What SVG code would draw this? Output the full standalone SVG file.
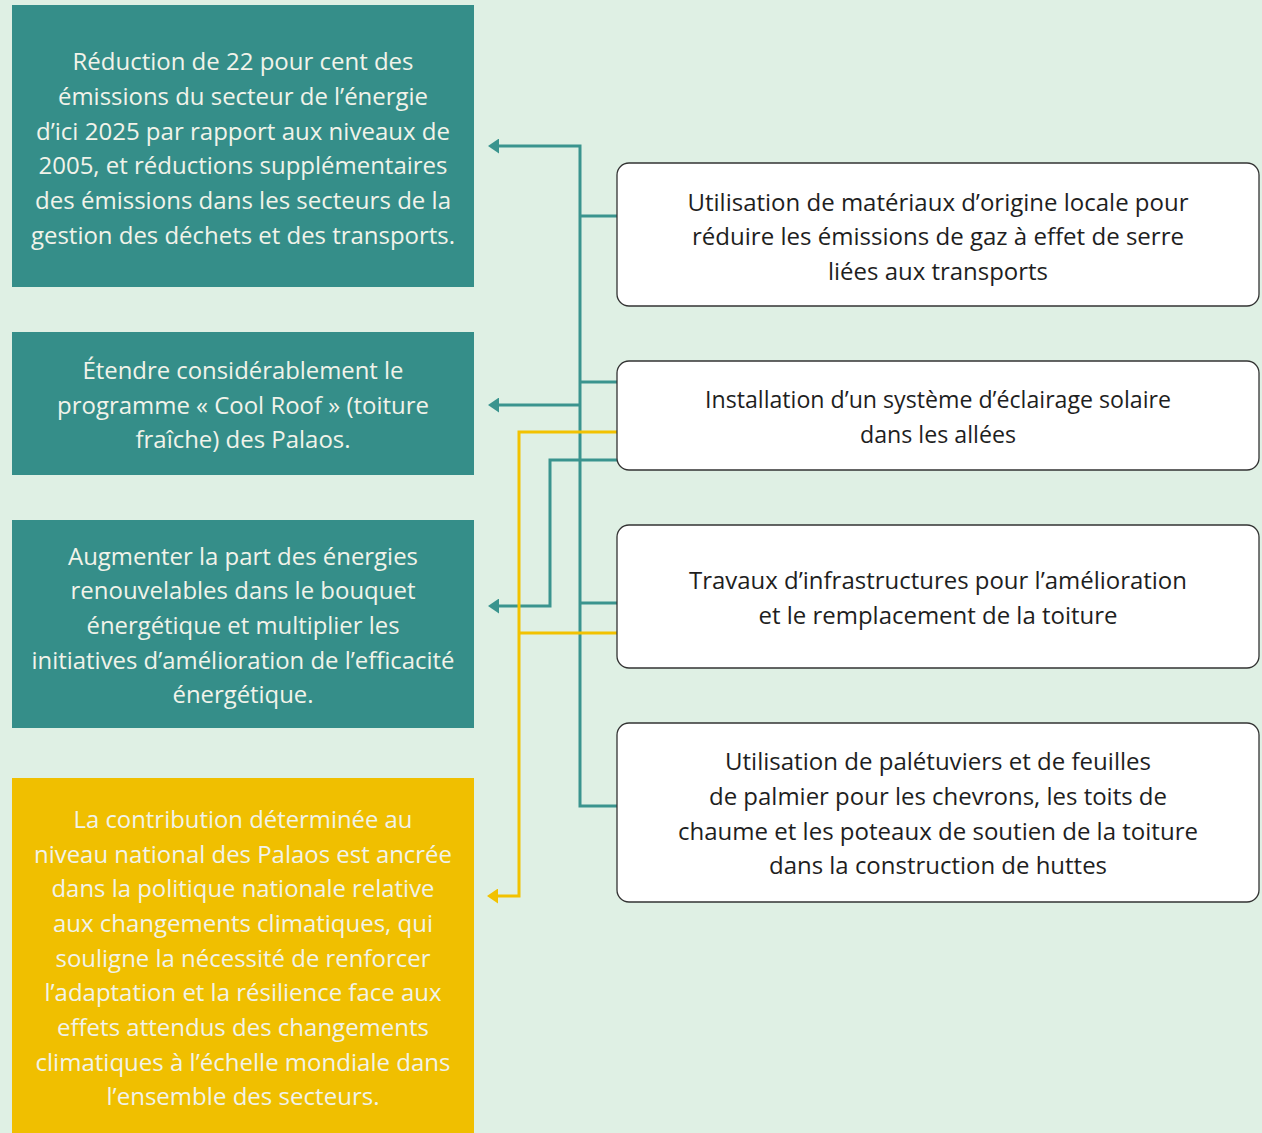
<svg xmlns="http://www.w3.org/2000/svg" width="1262" height="1133" viewBox="0 0 1262 1133">
<style>
.bg{fill:#dff0e4}
.teal{fill:#358e89}
.yel{fill:#f0bf00}
.rbox{fill:#ffffff;stroke:#333333;stroke-width:1.3}
.lt{font-family:"Open Sans","Liberation Sans",sans-serif;font-size:23px;fill:#f1f3ea;text-anchor:middle}
.rt{font-family:"Open Sans","Liberation Sans",sans-serif;font-size:23.5px;fill:#1e1e1e;text-anchor:middle}
.ct{fill:none;stroke:#3a948e;stroke-width:3}
.cy{fill:none;stroke:#f2c200;stroke-width:3}
</style>
<defs>
<marker id="at" viewBox="0 0 11 15" refX="1" refY="7.5" markerWidth="11" markerHeight="15" markerUnits="userSpaceOnUse" orient="auto"><path d="M0,0 L11,7.5 L0,15 Z" fill="#3a948e"/></marker>
<marker id="ay" viewBox="0 0 11 15" refX="1" refY="7.5" markerWidth="11" markerHeight="15" markerUnits="userSpaceOnUse" orient="auto"><path d="M0,0 L11,7.5 L0,15 Z" fill="#f2c200"/></marker>
</defs>
<rect class="bg" x="0" y="0" width="1262" height="1133"/>

<g id="connectors">
<path class="ct" d="M617,216 H580"/>
<path class="ct" d="M617,382 H580"/>
<path class="ct" d="M617,603 H580"/>
<path class="ct" d="M617,806 H580 V146 H498" marker-end="url(#at)"/>
<path class="ct" d="M580,405 H498" marker-end="url(#at)"/>
<path class="ct" d="M617,460 H550 V606 H498" marker-end="url(#at)"/>
<path class="cy" d="M617,633 H519"/>
<path class="cy" d="M617,432 H519 V896 H497" marker-end="url(#ay)"/>
</g>

<g id="n1">
<rect class="teal" x="12" y="5" width="462" height="282"/>
<text class="lt"><tspan x="243" y="70" textLength="341" lengthAdjust="spacingAndGlyphs">Réduction de 22 pour cent des</tspan><tspan x="243" y="105" textLength="370" lengthAdjust="spacingAndGlyphs">émissions du secteur de l’énergie</tspan><tspan x="243" y="140" textLength="414" lengthAdjust="spacingAndGlyphs">d’ici 2025 par rapport aux niveaux de</tspan><tspan x="243" y="174" textLength="409" lengthAdjust="spacingAndGlyphs">2005, et réductions supplémentaires</tspan><tspan x="243" y="209" textLength="416" lengthAdjust="spacingAndGlyphs">des émissions dans les secteurs de la</tspan><tspan x="243" y="244" textLength="424" lengthAdjust="spacingAndGlyphs">gestion des déchets et des transports.</tspan></text>
</g>

<g id="n2">
<rect class="teal" x="12" y="332" width="462" height="143"/>
<text class="lt"><tspan x="243" y="379" textLength="321" lengthAdjust="spacingAndGlyphs">Étendre considérablement le</tspan><tspan x="243" y="414" textLength="372" lengthAdjust="spacingAndGlyphs">programme « Cool Roof » (toiture</tspan><tspan x="243" y="448" textLength="215" lengthAdjust="spacingAndGlyphs">fraîche) des Palaos.</tspan></text>
</g>

<g id="n3">
<rect class="teal" x="12" y="520" width="462" height="208"/>
<text class="lt"><tspan x="243" y="565" textLength="350" lengthAdjust="spacingAndGlyphs">Augmenter la part des énergies</tspan><tspan x="243" y="599" textLength="345" lengthAdjust="spacingAndGlyphs">renouvelables dans le bouquet</tspan><tspan x="243" y="634" textLength="313" lengthAdjust="spacingAndGlyphs">énergétique et multiplier les</tspan><tspan x="243" y="669" textLength="423" lengthAdjust="spacingAndGlyphs">initiatives d’amélioration de l’efficacité</tspan><tspan x="243" y="703" textLength="141" lengthAdjust="spacingAndGlyphs">énergétique.</tspan></text>
</g>

<g id="n4">
<rect class="yel" x="12" y="778" width="462" height="360"/>
<text class="lt"><tspan x="243" y="828" textLength="339" lengthAdjust="spacingAndGlyphs">La contribution déterminée au</tspan><tspan x="243" y="863" textLength="418" lengthAdjust="spacingAndGlyphs">niveau national des Palaos est ancrée</tspan><tspan x="243" y="897" textLength="383" lengthAdjust="spacingAndGlyphs">dans la politique nationale relative</tspan><tspan x="243" y="932" textLength="380" lengthAdjust="spacingAndGlyphs">aux changements climatiques, qui</tspan><tspan x="243" y="967" textLength="375" lengthAdjust="spacingAndGlyphs">souligne la nécessité de renforcer</tspan><tspan x="243" y="1001" textLength="397" lengthAdjust="spacingAndGlyphs">l’adaptation et la résilience face aux</tspan><tspan x="243" y="1036" textLength="372" lengthAdjust="spacingAndGlyphs">effets attendus des changements</tspan><tspan x="243" y="1071" textLength="415" lengthAdjust="spacingAndGlyphs">climatiques à l’échelle mondiale dans</tspan><tspan x="243" y="1105" textLength="273" lengthAdjust="spacingAndGlyphs">l’ensemble des secteurs.</tspan></text>
</g>

<g id="r1">
<rect class="rbox" x="617" y="163" width="642" height="143" rx="12"/>
<text class="rt"><tspan x="938" y="211" textLength="501" lengthAdjust="spacingAndGlyphs">Utilisation de matériaux d’origine locale pour</tspan><tspan x="938" y="245" textLength="492" lengthAdjust="spacingAndGlyphs">réduire les émissions de gaz à effet de serre</tspan><tspan x="938" y="280" textLength="220" lengthAdjust="spacingAndGlyphs">liées aux transports</tspan></text>
</g>

<g id="r2">
<rect class="rbox" x="617" y="361" width="642" height="109" rx="12"/>
<text class="rt"><tspan x="938" y="408" textLength="466" lengthAdjust="spacingAndGlyphs">Installation d’un système d’éclairage solaire</tspan><tspan x="938" y="443" textLength="156" lengthAdjust="spacingAndGlyphs">dans les allées</tspan></text>
</g>

<g id="r3">
<rect class="rbox" x="617" y="525" width="642" height="143" rx="12"/>
<text class="rt"><tspan x="938" y="589" textLength="498" lengthAdjust="spacingAndGlyphs">Travaux d’infrastructures pour l’amélioration</tspan><tspan x="938" y="624" textLength="359" lengthAdjust="spacingAndGlyphs">et le remplacement de la toiture</tspan></text>
</g>

<g id="r4">
<rect class="rbox" x="617" y="723" width="642" height="179" rx="12"/>
<text class="rt"><tspan x="938" y="770" textLength="426" lengthAdjust="spacingAndGlyphs">Utilisation de palétuviers et de feuilles</tspan><tspan x="938" y="805" textLength="458" lengthAdjust="spacingAndGlyphs">de palmier pour les chevrons, les toits de</tspan><tspan x="938" y="840" textLength="520" lengthAdjust="spacingAndGlyphs">chaume et les poteaux de soutien de la toiture</tspan><tspan x="938" y="874" textLength="338" lengthAdjust="spacingAndGlyphs">dans la construction de huttes</tspan></text>
</g>
</svg>
